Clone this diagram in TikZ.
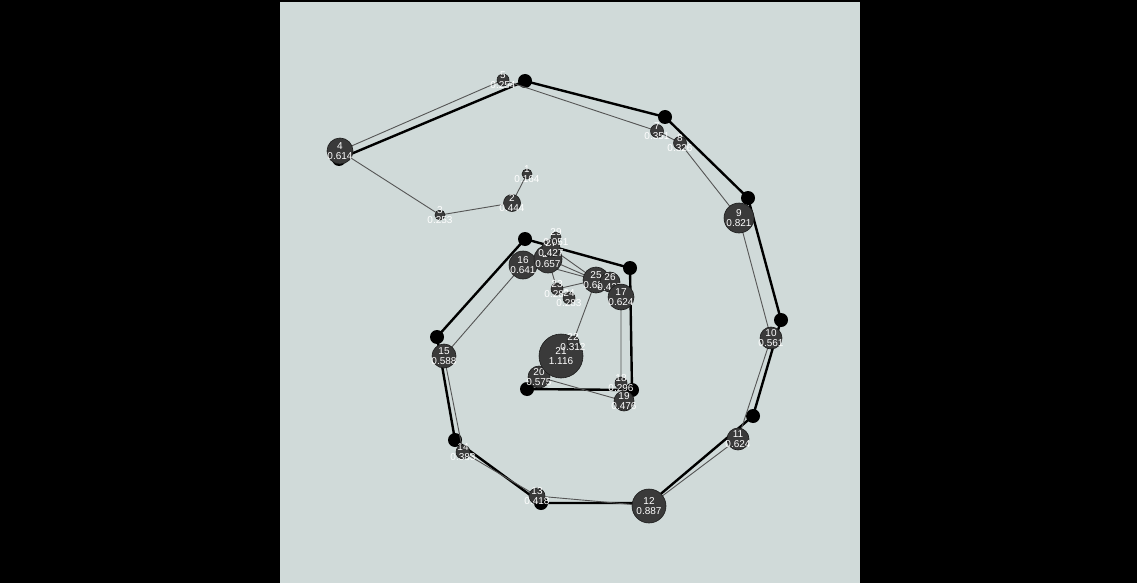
\documentclass[tikz,border=0pt]{standalone}
\usepackage{fontspec}
\setmainfont{Liberation Sans}
\definecolor{panel}{RGB}{208,218,217}
\definecolor{nodegray}{RGB}{58,58,58}
\definecolor{nodeedge}{RGB}{28,28,28}
\definecolor{linegray}{RGB}{85,85,85}
\tikzset{
  gn/.style={circle, fill=nodegray, draw=nodeedge, line width=0.6pt, inner sep=0pt, minimum size=#1},
  lbl/.style={text=white, font=\fontsize{10}{10.5}\selectfont, align=center, inner sep=0pt},
  bd/.style={circle, fill=black, inner sep=0pt, minimum size=14pt},
  tl/.style={draw=linegray, line width=0.9pt},
  tk/.style={draw=black, line width=2.4pt, line join=round},
}
\newcommand{\gnd}[4]{\node[gn=#2] (#1) at (c#1) {};\node[lbl] (t#1) at (c#1) {#3\\#4};}
\begin{document}
\begin{tikzpicture}[x=1pt,y=-1pt]
\useasboundingbox (0,0) rectangle (1137,583);
\fill[black] (0,0) rectangle (1137,583);
\fill[panel] (280,2) rectangle (860,583);
% coordinates of the grey nodes
\coordinate (c1) at (527,174);
\coordinate (c2) at (512,203);
\coordinate (c3) at (440,215);
\coordinate (c4) at (340,151);
\coordinate (c5) at (503,80);
\coordinate (c7) at (657,131);
\coordinate (c8) at (680,143);
\coordinate (c9) at (739,218);
\coordinate (c10) at (771,338);
\coordinate (c11) at (738,439);
\coordinate (c12) at (649,506);
\coordinate (c13) at (537,496);
\coordinate (c14) at (463,452);
\coordinate (c15) at (444,356);
\coordinate (c16) at (523,265);
\coordinate (c28) at (548,259);
\coordinate (c27) at (551,248);
\coordinate (c29) at (556,237);
\coordinate (c25) at (596,280);
\coordinate (c26) at (610,282);
\coordinate (c17) at (621,297);
\coordinate (c18) at (621,383);
\coordinate (c19) at (624,401);
\coordinate (c20) at (539,377);
\coordinate (c21) at (561,356);
\coordinate (c22) at (573,342);
\coordinate (c23) at (557,289);
\coordinate (c24) at (569,298);
% black dots
\coordinate (b1) at (339,159);
\coordinate (b2) at (525,81);
\coordinate (b3) at (665,117);
\coordinate (b4) at (748,198);
\coordinate (b5) at (781,320);
\coordinate (b6) at (753,416);
\coordinate (b7) at (650,503);
\coordinate (b8) at (541,503);
\coordinate (b9) at (455,440);
\coordinate (b10) at (437,337);
\coordinate (b11) at (525,239);
\coordinate (b12) at (630,268);
\coordinate (b13) at (632,390);
\coordinate (b14) at (527,389);
\coordinate (b15) at (570,346);
% thick path
\draw[tk] (b1) -- (b2) -- (b3) -- (b4) -- (b5) -- (b6) -- (b7) -- (b8) -- (b9) -- (b10) -- (b11) -- (b12) -- (b13) -- (b14);
\foreach \b in {b1,b2,b3,b4,b5,b6,b7,b8,b9,b10,b11,b12,b13,b14}{\node[bd] (d\b) at (\b) {};}
\node[bd, minimum size=11pt] (db15) at (b15) {};
% thin path
\draw[tl] (c1) -- (c2) -- (c3) -- (c4) -- (c5) -- (c7) -- (c8) -- (c9) -- (c10) -- (c11) -- (c12) -- (c13) -- (c14) -- (c15) -- (c16);
\draw[tl] ([yshift=5pt]c16) -- (c25);
\draw[tl] (c28) -- (c25);
\draw[tl] (c27) -- (c25);
\draw[tl] (c28) -- (c23) -- (c25);
\draw[tl] (c23) -- (c24);
\draw[tl] (c25) -- (c26) -- (c17) -- (c18) -- (c19) -- (c20) -- (c21) -- (c22) -- (c25);
% grey nodes
\gnd{1}{10pt}{1}{0.164}
\gnd{2}{17pt}{2}{0.444}
\gnd{3}{10pt}{3}{0.253}
\gnd{4}{26pt}{4}{0.614}
\gnd{5}{12pt}{5}{0.254}
\gnd{7}{13pt}{7}{0.351}
\gnd{8}{13pt}{8}{0.326}
\gnd{9}{30pt}{9}{0.821}
\gnd{10}{22pt}{10}{0.561}
\gnd{11}{22pt}{11}{0.624}
\gnd{12}{34pt}{12}{0.887}
\gnd{13}{16pt}{13}{0.418}
\gnd{14}{14pt}{14}{0.383}
\gnd{15}{24pt}{15}{0.588}
\gnd{16}{28pt}{16}{0.641}
\gnd{23}{12pt}{23}{0.282}
\gnd{24}{12pt}{24}{0.283}
\gnd{28}{28pt}{28}{0.657}
\gnd{27}{18pt}{27}{0.427}
\gnd{29}{10pt}{29}{0.051}
\gnd{25}{26pt}{25}{0.624}
\gnd{26}{20pt}{26}{0.427}
\gnd{17}{26pt}{17}{0.624}
\gnd{18}{12pt}{18}{0.296}
\gnd{19}{20pt}{19}{0.476}
\gnd{20}{22pt}{20}{0.575}
\gnd{21}{44pt}{21}{1.116}
\gnd{22}{12pt}{22}{0.312}
\end{tikzpicture}
\end{document}
